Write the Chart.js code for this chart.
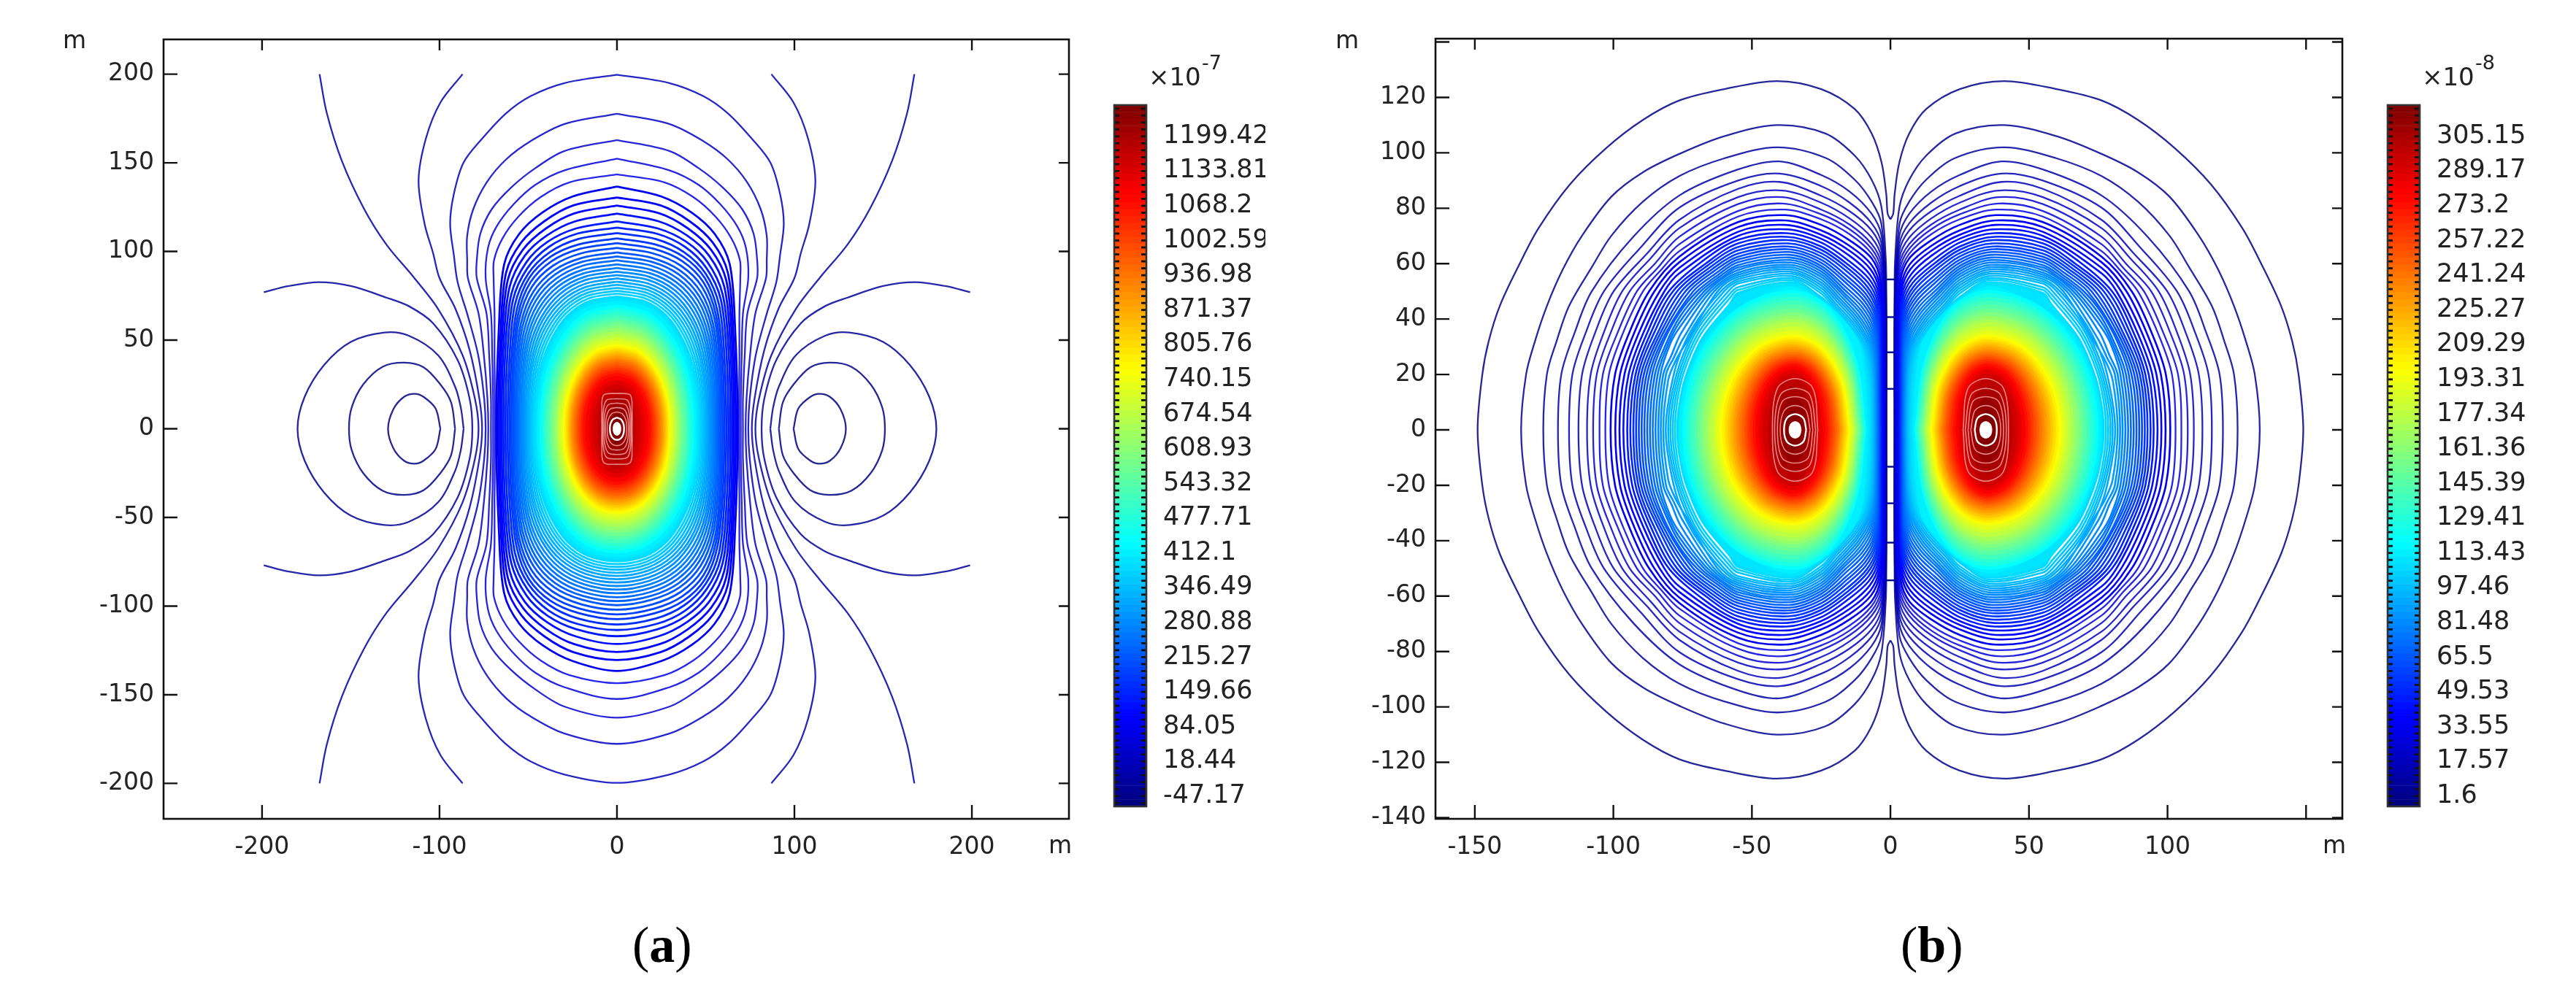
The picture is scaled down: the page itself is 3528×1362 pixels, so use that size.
<!DOCTYPE html>
<html><head><meta charset="utf-8">
<style>
html,body{margin:0;padding:0;background:#fff;width:3528px;height:1362px;overflow:hidden}
canvas{position:absolute;display:block}
.t{position:absolute;white-space:nowrap;color:#222;font-family:"DejaVu Sans",sans-serif}
.cap{position:absolute;white-space:nowrap;color:#000;font-family:"Liberation Serif",serif;font-size:70px;line-height:70px}
</style></head><body>
<canvas id="ca" width="1500" height="1362" style="left:0;top:0"></canvas>
<canvas id="ba" width="233" height="1362" style="left:1500px;top:0"></canvas>
<canvas id="cb" width="1500" height="1362" style="left:1740px;top:0"></canvas>
<canvas id="bb" width="268" height="1362" style="left:3240px;top:0"></canvas>
<div class="t" style="left:1573px;top:85px;font-size:34px;line-height:40px">×10</div><div class="t" style="left:1646px;top:71px;font-size:27px;line-height:30px">-7</div>
<div class="t" style="left:3317px;top:85px;font-size:34px;line-height:40px">×10</div><div class="t" style="left:3390px;top:71px;font-size:27px;line-height:30px">-8</div>
<div class="cap" style="left:866px;top:1260px">(<b>a</b>)</div>
<div class="cap" style="left:2603px;top:1260px">(<b>b</b>)</div>
<script src="https://cdn.jsdelivr.net/npm/chart.js@4/dist/chart.umd.min.js"></script>
<script>
// ---------- tick values and labels ----------
const xTicksA=[-200,-100,0,100,200];
const yTicksA=[-200,-150,-100,-50,0,50,100,150,200];
const xTicksB=[-150,-100,-50,0,50,100,150];
const yTicksB=[-140,-120,-100,-80,-60,-40,-20,0,20,40,60,80,100,120,140];
const barLabelsA=["1199.42","1133.81","1068.2","1002.59","936.98","871.37","805.76","740.15","674.54","608.93","543.32","477.71","412.1","346.49","280.88","215.27","149.66","84.05","18.44","-47.17"];
const barLabelsB=["305.15","289.17","273.2","257.22","241.24","225.27","209.29","193.31","177.34","161.36","145.39","129.41","113.43","97.46","81.48","65.5","49.53","33.55","17.57","1.6"];

// ---------- panel (a): contours, [level index, x,y, x,y, ...] ----------
// side lobes and open arcs (x>0,y>=0 half)
const lobesA=[
[0, 99.5,0,102.2,11.4,109,18,114,19.7,120,18,126,11,129,0],
[1, 91.2,0,93.5,15,99.5,25,109,34.7,119.8,37.3,132,35,143,25,149.5,12,151,0],
[2, 86.4,0,88,12,91.2,23.7,100.8,41.5,117.3,52.5,131,54.3,150,49,165,36,176,18,180,0],
[3, 199,77,185,80.5,168,82.7,150,80.5,130,74,117,69,103.6,59.5,89.8,38.8,83,16.8,81.5,0],
[4, 167.6,200,163.5,178,155,151,142.5,124,130,104,114.5,85.4,100.8,67.6,87,41.5,80,16.8,78,0],
[5, 87,200,99.5,184,107.7,163.6,111.8,140,108.4,115.6,103.6,99,100,85,91,67.6,83,44.3,77.5,16.8,76,0]
];
// loops around the centre, quarter from the top (0,Y) to the waist (X,0)
const loopsA=[
[6, 0,199.7,29.5,195,48.7,187.6,62.4,178,76,163.6,86.5,150,92,132,94,115.6,91.9,97.8,89.8,82.7,84.4,64.9,78.2,41.5,74.8,16.8,74,0],
[7, 0,177.7,29.5,171.9,48.7,162.2,62.4,152,73.4,139,81,123.8,84.4,108.8,84.4,95,84,85,78,65,75,41.5,73,17,72.5,0],
[8, 0,162.9,29.5,156.7,46,147,59.7,136,70.6,123.8,77,110,79,95,79,85,73.5,65,72,41.5,71,17,71,0],
[9, 0,152.4,29.5,145.8,46,137.6,58.3,126.6,67.9,114,72.7,101.9,74,85,71,65,70.3,41.5,69.8,17,69.8,0],
[10,0,143.5,26.7,139,43,130.7,55.5,119.7,64.5,107.4,69.3,95,69.5,85,69,65,69,41.5,68.8,17,68.8,0],
[11,0,136.6,25,131,42,122,55,110,63.5,93,66.5,58,68,0],
[12,0,130.4,24.5,126,41,117,54,105,62.5,88,65.5,55,67,0],
[13,0,125.9,24,121.5,40,113,53,101,61.5,84,64.7,52,66,0],
[14,0,121.4,23.5,117,39.5,109,52,97.5,60.5,80,63.8,49,65,0],
[15,0,117,23,113,39,105.5,51,94,59.5,76,62.8,46,64,0],
[16,0,113.5,22.5,110,38.5,102.5,50.5,90.5,58.5,73,61.7,43,62.8,0],
[17,0,110.4,22,107,38,99.5,50,87.5,57.5,70,60.5,41,61.6,0],
[18,0,107.4,21.5,104,37.5,97,49.5,85,56.5,67,59.5,38.5,60.5,0],
[19,0,104.7,20.8,101.5,36.8,94.5,48.8,82.5,55.7,64.5,58.6,36.5,59.5,0],
[20,0,102,20,99,36,92,48,80,55,62,58,35,58.5,0],
[21,0,99.5,19.7,96.4,35.4,89.4,47.2,77.2,54.1,59.5,57.1,33.2,57.6,0],
[22,0,97.2,19.4,94.2,34.9,87,46.4,74.7,53.3,57.3,56.2,31.6,56.7,0],
[23,0,95,19.2,92,34.3,84.6,45.7,72.3,52.4,55,55.4,29.9,55.9,0],
[24,0,92.8,18.9,89.8,33.8,82.4,44.9,69.9,51.5,52.8,54.5,28.4,55,0],
[25,0,90.7,18.6,87.7,33.2,80.2,44.1,67.6,50.6,50.8,53.6,26.9,54.1,0],
[26,0,88.7,18.3,85.7,32.6,78.1,43.3,65.5,49.8,48.8,52.8,25.5,53.2,0],
[27,0,86.7,18,83.8,32.1,76,42.4,63.3,48.9,46.9,51.9,24.2,52.4,0],
[28,0,84.8,17.8,81.8,31.5,74,41.8,61.3,48,44.9,51,22.8,51.5,0],
[29,0,83,17.5,80,31,72.1,41,59.3,47.1,43.2,50.1,21.6,50.6,0],
[30,0,81.2,17.2,78.3,30.4,70.2,40.2,57.5,46.3,41.5,49.3,20.4,49.8,0],
[31,0,79.5,16.9,76.6,29.8,68.5,39.4,55.7,45.4,39.8,48.4,19.2,48.9,0],
[32,0,77.9,16.6,75,29.3,66.8,38.6,53.9,44.5,38.3,47.5,18.1,48,0],
[33,0,76.3,16.3,73.4,28.7,65.2,37.8,52.3,43.6,36.8,46.6,17,47.1,0],
[34,0,74.7,16,71.8,28.1,63.6,37,50.6,42.8,35.3,45.8,16,46.3,0],
[35,0,73.2,15.8,70.3,27.6,62.1,36.3,49,41.9,33.9,44.9,14.9,45.4,0],
[36,0,71.7,15.5,68.8,27,60.5,35.5,47.5,41,32.5,44,14,44.5,0]
];
// solid core of panel (a)
const fillsA=[
[38,0,69.8,17.3,65.5,31.2,51.5,40.3,29.5,43.3,0],
[40,0,67.9,16.8,63.5,30.3,49.6,39.2,28,42.1,0],
[42,0,66,16.4,61.4,29.4,47.5,38,26.4,40.9,0],
[44,0,64.1,15.9,59.6,28.6,46.2,36.9,25.6,39.7,0],
[46,0,62.2,15.4,57.8,27.7,44.8,35.8,24.9,38.5,0],
[48,0,60.3,14.9,56.1,26.8,43.4,34.6,24.1,37.2,0],
[50,0,58.5,14.4,54.4,25.9,42.1,33.5,23.4,36,0],
[52,0,56.7,14,52.7,25.2,40.8,32.6,22.7,35,0],
[54,0,54.9,13.6,51.1,24.5,39.5,31.6,22,34,0],
[56,0,53.1,13.2,49.4,23.8,38.2,30.7,21.2,33,0],
[58,0,51.3,12.8,47.7,23,36.9,29.8,20.5,32,0],
[60,0,49.5,12.4,46,22.3,35.6,28.8,19.8,31,0],
[62,0,47.7,12,44.4,21.6,34.3,27.9,19.1,30,0],
[64,0,46.4,11.7,43.2,21,33.4,27.2,18.6,29.2,0],
[66,0,45.1,11.4,41.9,20.4,32.5,26.4,18,28.4,0],
[68,0,43.9,11,40.8,19.9,31.6,25.7,17.6,27.6,0],
[70,0,42.6,10.7,39.6,19.3,30.7,24.9,17,26.8,0],
[72,0,41.3,10.4,38.4,18.7,29.7,24.2,16.5,26,0],
[74,0,40,10.1,37.2,18.1,28.8,23.4,16,25.2,0],
[76,0,38.8,9.7,36.1,17.4,27.9,22.5,15.5,24.2,0],
[78,0,37.3,9.3,34.7,16.7,26.9,21.6,14.9,23.2,0],
[80,0,35.8,8.9,33.3,16,25.8,20.6,14.3,22.2,0],
[82,0,34.3,8.5,31.9,15.3,24.7,19.7,13.7,21.2,0],
[84,0,32.8,8,30.5,14.5,23.6,18.7,13.1,20.1,0],
[86,0,31.3,7.6,29.1,13.7,22.5,17.7,12.5,19,0],
[88,0,29.5,7,27.4,12.6,21.2,16.3,11.8,17.5,0],
[90,0,27.3,6.2,25.4,11.2,19.7,14.4,10.9,15.5,0],
[92,0,24.8,5.2,23.1,9.4,17.9,12.1,9.9,13,0],
[94,0,22,4.2,20.5,7.6,15.8,9.8,8.8,10.5,0],
[96,0,18,3.3,16.7,5.9,13,7.6,7.2,8.2,0],
[98,0,13,2.4,12.1,4.3,9.4,5.6,5.2,6,0],
[100,0,8,1.4,7.4,2.5,5.8,3.3,3.2,3.5,0]
];
const coreRingsA=[
[0, 0,20,7.5,19,8.5,10,8.5,0],[0, 0,17,6,16,7.8,9,8,0],[0, 0,14.5,5,13.5,7,8,7.3,0],
[0, 0,12,4,11,6,6.5,6.5,0],[0, 0,9.5,3,8.5,5,5,5.5,0]
];
const coreWhiteA=[[0, 0,6.3,2.2,5.4,3.6,3,4,0]];
const coreFillA=[[0, 0,3.7,1.3,3.1,2,1.7,2.2,0]];

// ---------- panel (b): upper half of each contour, from the centre line over the top to y=0 ----------
const lobesB=[
[1, 0,76,1,78,1.5,85,3.2,96.5,6.8,107,12.9,115.8,25,123,41,125.9,60,123,76.2,118.9,89.3,111.9,102.5,101.8,115.7,88.6,127,72.8,134,59.6,141,44.7,145,32,147.3,20,149,0],
[2, 1.4,0,1.5,50,1.7,62,3.3,80.7,6.8,90.3,12.9,99,23.5,107,41,110,60,106,76.2,99.6,89.3,93,100.7,84.2,111.3,70.1,118.3,57.8,124,44.7,128.3,32,131.5,20,133.3,0],
[3, 1.5,0,1.6,50,3.3,74.5,6.8,82.4,12.9,90.3,23.5,98.2,41,102,60,98,76.2,91.6,89.3,82.4,100.7,70.1,107.8,58.7,116,44.7,120.5,32,124,20,125.3,0],
[4, 1.6,0,1.7,48,3.2,70,6.8,78,14.7,86,25,92,40,96.9,55,94,76.2,84.6,93,69.5,107.8,50,114,35,118.8,20,120,0],
[5, 1.7,0,1.8,46,3.2,67,6.8,74.6,14.7,82,25,88,40,92.5,55,90,76.2,80.2,90,66,103.4,50,110,35,114.8,20,116,0],
[6, 1.8,0,1.9,45,3.2,64.5,6.8,72,14.7,78.9,25,84.5,40,89.5,55,87,76.2,75.8,88,63.5,99.9,50,106.6,35,111.3,20,112.6,0],
[7, 1.9,0,2,44,3.2,62,6.8,69.4,14.7,76.3,25,82,39,86.4,55,84,76.2,72.8,86.5,62,96.8,50,103.5,35,108.2,20,109.5,0],
[8, 2.1,0,2.2,43,3.3,60,6.8,67.1,14.7,74.1,25,79.5,39,84,55,81.5,76.2,69.7,85,60,94.1,50,101,35,106,20,107.3,0],
[9, 2.3,0,2.4,42,3.4,58,6.8,65.4,14.7,72.4,25,77.8,39,81.7,55,79,76.2,67,84,58.5,91.5,50,98.5,35,103.8,20,105,0],
[10,2.5,0,2.6,41,3.5,56,6.8,63.6,14.7,70.6,25,76,38,79.5,55,77,76.2,64.5,83,57.5,89.3,50,96.5,35,101.6,20,102.9,0],
[11,2.8,0,2.9,40,3.6,54,6.8,61.9,14.7,68.4,25,74,38,77.5,55,75,76.2,62.5,87.1,50,94.3,35,99.4,20,101,0],
[12,3,0,3.1,39,3.8,52,7,59.8,14.7,66.4,25,72,38,75.6,55,73.2,76.2,60.5,85.2,50,92.5,35,97.6,20,99.3,0],
[13,3.1,0,3.3,38,4,50.5,7.2,58,14.7,64.6,25,70.4,38,74,55,71.5,76.2,58.5,83.3,50,90.8,35,96,20,97.8,0],
[14,3.3,0,3.5,37,4.2,49,7.5,56.2,14.7,62.8,25,69,37.5,72.4,55,70,76.2,56.5,81.6,50,89.2,35,94.5,20,96.4,0],
[15,3.4,0,3.6,36,4.4,47.5,7.8,54.6,15,61,25,67.6,37.5,71,55,68.6,68,60.8,80,50,87.8,35,93.2,20,95,0],
[16,3.6,0,3.8,35,4.6,46,8,53,15,59.4,25,66.2,37.5,69.7,55,67.3,66.7,60,78.5,50,86.5,35,92,20,93.9,0],
[17,3.7,0,4,34,4.9,44.8,8.3,51.6,15,58,25,65,37,68.5,55,66,66,59.3,77,50,85.3,35,91,20,92.8,0],
[18,3.9,0,4.2,33,5.1,43.6,8.6,50.4,15,56.6,25,63.8,37,67.3,55,64.8,65.2,58.6,75.5,50,84,35,90,20,91.8,0],
[19,4,0,4.3,32,5.4,42.4,9,49.2,15.3,55.2,25,62.6,37,66.2,55,63.6,64.5,57.9,74,50,83,35,89,20,90.8,0],
[20,4.2,0,4.5,31,5.6,41.2,9.3,48,15.5,53.9,25,61.4,37,65.2,55,62.5,63.8,57.2,72.6,50,82,35,88,20,89.8,0],
[21,4.3,0,4.7,30,5.9,40,9.6,46.8,15.7,52.7,25,60.3,36.5,64.2,55,61.5,63,56.5,71.2,50,81,35,87,20,88.8,0],
[22,4.5,0,4.9,29,6.1,38.8,10,45.6,16,51.4,25,59.2,36.5,63.2,55,60.5,62.4,55.8,69.8,50,76.2,42.2,81.8,32,86,20,87.8,0],
[23,4.7,0,5.1,28,6.4,37.6,10.3,44.4,16.3,50.3,25,58.2,36.5,62.2,55,59.5,61.7,55.3,68.5,50,76.2,40.5,81,31,85,20,86.8,0],
[24,4.9,0,5.3,27,6.7,36.4,10.7,43.3,16.7,49.4,25,57.2,36.5,61.3,55,58.6,61.1,54.8,67.2,50,76.2,38.7,80.2,31,84,20,85.8,0],
[25,5.1,0,5.6,26,7,35.2,11,42.2,17,48.6,25,56.2,36,60.4,55,57.7,66,50,76.2,36.8,79.5,31,83,20,84.8,0],
[26,5.3,0,5.8,25,7.2,34,11.4,41.2,17.5,47.9,25,55.2,36,59.5,55,56.8,64.8,50,75.5,35,79,27,82,20,83.8,0],
[27,5.5,0,6,24,7.5,33,11.8,40.4,18,47.2,25,54.2,36,58.7,55,56,63.6,50,74.8,33,78.2,26,81,20,82.9,0],
[28,5.7,0,6.2,23,7.8,32,12.2,39.6,18.5,46.6,25,53.2,36,57.9,55,55.2,62.4,50,74,31,77.5,25,80.2,18,82,0],
[29,5.9,0,6.4,22,8.1,31.4,12.6,38.9,19,46,25,52.2,36,57.1,55,54.4,61.2,50,71,37.5,76.8,25,80,11,81.1,0],
[30,6.1,0,6.6,21,8.4,30.8,13,38.2,19.5,45.3,25,51.2,35.5,56.3,55,53.6,60,50,70,37,76,24,79.4,10,80.2,0],
[31,6.4,0,6.9,20,8.8,30.2,13.4,37.6,20,44.8,25,50.2,35.5,55.5,55,52.8,59,49.5,69.5,36.5,75.5,23,78.6,10,79.4,0],
[32,6.7,0,7.2,19,9.2,29.8,13.8,37,20.5,44.4,25,49.2,35.5,54.7,55,51.5,58.5,48.5,69,35.5,75,22,77.8,10,78.6,0],
[33,7,0,7.6,18,9.6,29.5,14.2,36.6,21,44.2,25.5,48.3,35.5,54,55,50.5,58,47.5,68.5,34.5,74.5,21,77,10,77.8,0],
[34,7.4,0,8,17,10,29.3,14.6,36.4,21.5,44.4,26,48,35,53.3,55,49.5,58,45.5,68,33,74,19,76.2,9,77,0],
[35,7.9,0,8.6,16,10.6,29.3,15,37,22.5,45,26.5,47.8,35,52.6,53,49,59,44,68,31.5,74,17,75.8,8,76.4,0],
[36,8.4,0,9.2,15,11.1,30,15.4,37.6,23.5,45.5,36,51.5,49.8,46.5,60,40,68,30,74,15,76,0]
];
const fillsB=[
[38,8.9,0,12.3,25.1,22,43.7,35,50.2,55,43.7,69.7,25.1,74.9,0],
[40,9.3,0,12.6,24.5,22.2,42.6,35,49,54.4,42.6,68.8,24.5,73.8,0],
[42,9.8,0,13.1,23.9,22.4,41.5,35,47.7,53.9,41.5,67.8,23.9,72.7,0],
[44,10.2,0,13.4,23.2,22.6,40.4,35,46.4,53.3,40.4,66.8,23.2,71.6,0],
[46,10.7,0,13.9,22.5,22.9,39.2,35,45,52.7,39.2,65.8,22.5,70.4,0],
[48,11.2,0,14.3,21.8,23.1,37.9,35,43.6,52.2,37.9,64.8,21.8,69.3,0],
[50,11.7,0,14.7,21.1,23.4,36.7,35,42.2,51.6,36.7,63.9,21.1,68.2,0],
[52,12.1,0,15.1,20.5,23.6,35.7,35,41,51,35.7,62.9,20.5,67.1,0],
[54,12.6,0,15.5,19.9,23.8,34.6,35,39.8,50.5,34.6,62,19.9,66,0],
[56,13.1,0,15.9,19.3,24.1,33.5,35,38.5,50,33.5,61,19.3,64.9,0],
[58,13.6,0,16.4,18.5,24.3,32.2,35,37,49.4,32.2,60,18.5,63.7,0],
[60,14.1,0,16.8,17.8,24.6,31,35,35.6,48.8,31,59,17.8,62.6,0],
[62,14.7,0,17.3,17.1,24.9,29.8,35,34.2,48.3,29.8,58.1,17.1,61.5,0],
[64,15.2,0,17.8,16.7,25.1,29,35,33.3,47.8,29,57.2,16.7,60.5,0],
[66,15.8,0,18.3,16.2,25.4,28.2,35,32.4,47.3,28.2,56.3,16.2,59.5,0],
[68,16.4,0,18.8,15.8,25.7,27.4,35,31.5,46.8,27.4,55.4,15.8,58.5,0],
[70,17,0,19.3,15.3,26,26.6,35,30.6,46.3,26.6,54.6,15.3,57.5,0],
[72,17.6,0,19.9,14.9,26.3,25.8,35,29.7,45.8,25.8,53.7,14.9,56.5,0],
[74,18.2,0,20.4,14.4,26.6,25.1,35,28.8,45.3,25.1,52.8,14.4,55.5,0],
[76,18.8,0,20.9,14,26.9,24.3,35,27.9,44.8,24.3,52,14,54.5,0],
[78,19.5,0,21.5,13.5,27.3,23.5,35,27,44.3,23.5,51.1,13.5,53.5,0],
[80,20.2,0,22.1,13.1,27.6,22.8,35,26.2,43.8,22.8,50.2,13.1,52.5,0],
[82,21,0,22.8,12.7,28,22.1,35,25.4,43.3,22.1,49.4,12.7,51.5,0],
[84,21.8,0,23.5,12.3,28.4,21.4,35,24.6,42.8,21.4,48.5,12.3,50.5,0],
[86,22.7,0,24.3,11.9,28.9,20.7,35,23.8,42.3,20.7,47.6,11.9,49.5,0],
[88,23.7,0,25.2,11.4,29.4,19.8,35,22.8,41.8,19.8,46.7,11.4,48.5,0],
[90,24.8,0,26.1,10.8,29.9,18.8,35,21.6,41.1,18.8,45.6,10.8,47.2,0],
[92,26,0,27.2,10.1,30.5,17.6,35,20.2,40.4,17.6,44.4,10.1,45.8,0],
[94,27.2,0,28.2,9.3,31.1,16.1,35,18.5,39.5,16.1,42.8,9.3,44,0],
[96,28.5,0,29.3,7.8,31.8,13.5,35,15.5,38.5,13.5,41.1,7.8,42,0],
[98,30,0,30.7,5.8,32.5,10,35,11.5,37.4,10,39.2,5.8,39.8,0],
[100,32,0,32.4,3.5,33.5,6.1,35,7,36.3,6.1,37.2,3.5,37.5,0]
];
const coreRingsB=[
[0, 26.2,0,28,15,34.4,18.5,40.8,15,42.6,0],[0, 27,0,29,12.5,34.4,15,39.8,12.5,41.8,0],
[0, 28,0,29.6,10,34.4,12,39.2,10,40.8,0],[0, 29,0,30.5,7,34.4,8.8,38.3,7,39.8,0]
];
const coreWhiteB=[[0, 30.4,0,31.4,4.2,34.4,5.7,37.4,4.2,38.4,0]];
const coreFillB=[[0, 32.2,0,32.8,2.2,34.4,3,36,2.2,36.6,0]];
// short dark bridges across the white strip on the centre line of panel (b)
const bridgeYB=[54.3,40.7,28,14.8,-13.3,-26.5,-40.7,-54.3];

// ---------- drawing ----------
const clamp=v=>Math.max(0,Math.min(1,v));
function jet(f,a){
  const r=clamp(1.5-Math.abs(4*f-3)),g=clamp(1.5-Math.abs(4*f-2)),b=clamp(1.5-Math.abs(4*f-1));
  return `rgba(${Math.round(r*255)},${Math.round(g*255)},${Math.round(b*255)},${a===undefined?1:a})`;
}
const lineColor=k=>jet(k/100,k<11?0.85:1);
const toPts=r=>{const p=[];for(let i=1;i<r.length;i+=2)p.push({x:r[i],y:r[i+1]});return p;};
const flipX=p=>p.map(q=>({x:-q.x,y:q.y}));
const flipY=p=>p.map(q=>({x:q.x,y:-q.y}));
const mirrorHalf=p=>p.concat(flipY(p).reverse().slice(1));
const quadLoop=p=>{const h=mirrorHalf(p);return h.concat(flipX(h).reverse().slice(1));};
function ds(data,color,width,fill){
  return {data,showLine:true,pointRadius:0,pointHoverRadius:0,tension:0.33,borderColor:color,borderWidth:width,
    borderJoinStyle:'round',fill:fill?'shape':false,backgroundColor:fill?color:'transparent'};
}
function setOrder(list){list.forEach((d,i)=>d.order=list.length-i);return list;}
function datasetsA(){
  const L=[];
  lobesA.forEach(r=>{const h=mirrorHalf(toPts(r));L.push(ds(h,lineColor(r[0]),2.3));L.push(ds(flipX(h),lineColor(r[0]),2.3));});
  loopsA.forEach(r=>L.push(ds(quadLoop(toPts(r)),lineColor(r[0]),r[0]<11?2.3:2.8,r[0]>=34)));
  fillsA.forEach(r=>L.push(ds(quadLoop(toPts(r)),jet(r[0]/100),2,true)));
  coreRingsA.forEach(r=>L.push(ds(quadLoop(toPts(r)),'rgba(255,190,190,0.7)',1.6)));
  coreWhiteA.forEach(r=>L.push(ds(quadLoop(toPts(r)),'#fff',2.4)));
  coreFillA.forEach(r=>L.push(ds(quadLoop(toPts(r)),'#fff',1,true)));
  return setOrder(L);
}
function datasetsB(){
  const L=[];
  const both=(p,c,w,f)=>{L.push(ds(p,c,w,f));L.push(ds(flipX(p),c,w,f));};
  bridgeYB.forEach(y=>L.push(Object.assign(ds([{x:-1.5,y},{x:1.5,y}],'#00008f',2.4),{tension:0})));
  lobesB.forEach(r=>both(mirrorHalf(toPts(r)),lineColor(r[0]),r[0]<11?2.3:2.6,r[0]>=34));
  fillsB.forEach(r=>both(mirrorHalf(toPts(r)),jet(r[0]/100),2,true));
  coreRingsB.forEach(r=>both(mirrorHalf(toPts(r)),'rgba(255,190,190,0.7)',1.6));
  coreWhiteB.forEach(r=>both(mirrorHalf(toPts(r)),'#fff',2.4));
  coreFillB.forEach(r=>both(mirrorHalf(toPts(r)),'#fff',1,true));
  return setOrder(L);
}
const frame=(mTop,mBottom)=>({id:'frame',afterDatasetsDraw(c){
  const {ctx,chartArea:a,scales:{x,y}}=c;
  ctx.save();ctx.strokeStyle='#111';ctx.lineWidth=2.4;ctx.beginPath();
  x.ticks.forEach(t=>{const p=x.getPixelForValue(t.value);ctx.moveTo(p,a.top);ctx.lineTo(p,a.top+15);ctx.moveTo(p,a.bottom);ctx.lineTo(p,a.bottom-19);});
  y.ticks.forEach(t=>{const p=y.getPixelForValue(t.value);ctx.moveTo(a.left,p);ctx.lineTo(a.left+19,p);ctx.moveTo(a.right,p);ctx.lineTo(a.right-14,p);});
  ctx.stroke();
  ctx.lineWidth=2.6;ctx.strokeRect(a.left,a.top,a.right-a.left,a.bottom-a.top);
  ctx.fillStyle='#222';ctx.font='33px "DejaVu Sans"';ctx.textAlign='center';ctx.textBaseline='middle';
  ctx.fillText('m',mTop[0],mTop[1]);ctx.fillText('m',mBottom[0],mBottom[1]);
  ctx.restore();
}});
function mainChart(id,o){
  const W=1500,H=1362;
  return new Chart(document.getElementById(id),{type:'scatter',data:{datasets:o.datasets},plugins:[frame(o.mTop,o.mBottom)],
    options:{responsive:false,animation:false,devicePixelRatio:1,events:[],
      layout:{padding:{top:o.top,right:W-o.right,left:0,bottom:0}},
      plugins:{legend:{display:false},tooltip:{enabled:false},title:{display:false}},
      scales:{
        x:{type:'linear',min:o.xMin,max:o.xMax,grid:{display:false,drawTicks:false},border:{display:false},
          afterBuildTicks:s=>{s.ticks=o.xTicks.map(v=>({value:v}));},
          afterFit:s=>{s.height=H-o.bottom;},
          ticks:{autoSkip:false,maxRotation:0,padding:20,color:'#222',font:{family:'"DejaVu Sans"',size:33},
            callback:v=>o.hideX.includes(v)?'':String(v)}},
        y:{type:'linear',min:o.yMin,max:o.yMax,grid:{display:false,drawTicks:false},border:{display:false},
          afterBuildTicks:s=>{s.ticks=o.yTicks.map(v=>({value:v}));},
          afterFit:s=>{s.width=o.left;},
          ticks:{autoSkip:false,padding:13,color:'#222',font:{family:'"DejaVu Sans"',size:33},
            callback:v=>o.hideY.includes(v)?'':String(v)}}
      }}});
}
function colorBar(id,labels,left,W){
  const rows=101,names=[],colors=[],full=[],l=[],r=[];
  for(let i=0;i<rows;i++){
    const k=i-4;names.push(k>=0&&k%5===0&&labels[k/5]!==undefined?labels[k/5]:'');
    colors.push(jet((rows-1-i)/(rows-1)));full.push([0,1]);l.push([0,0.16]);r.push([0.84,1]);
  }
  const common={grouped:false,categoryPercentage:1};
  return new Chart(document.getElementById(id),{type:'bar',
    data:{labels:names,datasets:[
      Object.assign({data:l,backgroundColor:'#111',barPercentage:0.3,order:1},common),
      Object.assign({data:r,backgroundColor:'#111',barPercentage:0.3,order:2},common),
      Object.assign({data:full,backgroundColor:colors,barPercentage:1,order:3},common)]},
    plugins:[{id:'edge',afterDatasetsDraw(c){const {ctx,chartArea:a}=c;ctx.save();ctx.strokeStyle='#333';ctx.lineWidth=2.6;
      ctx.strokeRect(a.left,a.top,a.right-a.left,a.bottom-a.top);ctx.restore();}}],
    options:{indexAxis:'y',responsive:false,animation:false,devicePixelRatio:1,events:[],
      layout:{padding:{top:144,left:left,right:0,bottom:1362-1105}},
      plugins:{legend:{display:false},tooltip:{enabled:false}},
      scales:{
        x:{type:'linear',min:0,max:1,display:false},
        y:{position:'right',grid:{display:false,drawTicks:false},border:{display:false},
          afterFit:s=>{s.width=W-left-44;},
          ticks:{autoSkip:false,padding:23,color:'#222',crossAlign:'near',font:{family:'"DejaVu Sans"',size:35}}}
      }}});
}
mainChart('ca',{datasets:datasetsA(),top:54,bottom:1122,left:224,right:1464,xMin:-255.5,xMax:254.7,yMin:-220,yMax:219.6,
  xTicks:xTicksA,yTicks:yTicksA,hideX:[],hideY:[],mTop:[102,57],mBottom:[1452,1160]});
mainChart('cb',{datasets:datasetsB(),top:53,bottom:1122,left:226,right:1468,xMin:-164.2,xMax:163.1,yMin:-140.4,yMax:141.2,
  xTicks:xTicksB,yTicks:yTicksB,hideX:[150],hideY:[140],mTop:[105,57],mBottom:[1457,1160]});
colorBar('ba',barLabelsA,26,233);
colorBar('bb',barLabelsB,30,268);
</script>
</body></html>
